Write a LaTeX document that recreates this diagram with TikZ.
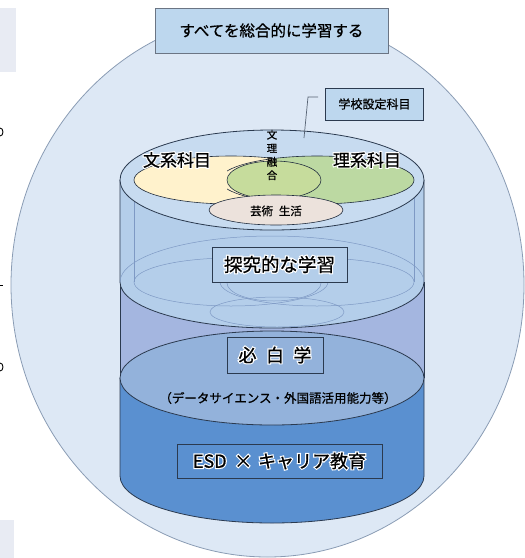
\documentclass[tikz,border=0pt]{standalone}
\usepackage{fontspec}
\setmainfont{Noto Sans CJK JP}[FakeBold=0.8]
\newfontfamily\glowfont[FakeBold=14]{Noto Sans CJK JP}
\newcommand\glow[1]{\leavevmode\rlap{\glowfont\color{white}#1}#1}
\definecolor{bigfill}{HTML}{DDE8F5}
\definecolor{bigline}{HTML}{8A9CB4}
\definecolor{edge}{HTML}{2B3A4F}
\definecolor{ghost}{HTML}{7E99C4}
\definecolor{topfill}{HTML}{C7DBF0}
\definecolor{upfill}{HTML}{B4CEEA}
\definecolor{midband}{HTML}{A4B6E0}
\definecolor{midell}{HTML}{93B2DB}
\definecolor{botfill}{HTML}{5A90D0}
\definecolor{boxfill}{HTML}{BDD7EE}
\definecolor{yel}{HTML}{FFF2CC}
\definecolor{grn}{HTML}{BCD9A2}
\definecolor{mixg}{HTML}{C6DC9C}
\definecolor{art}{HTML}{ECE2DC}
\definecolor{sidegrey}{HTML}{E8EBF3}
\tikzset{
  labelbox/.style={draw=edge, line width=0.8pt, inner sep=0pt, text=black},
  edgeline/.style={draw=edge, line width=0.8pt},
  ghostline/.style={draw=ghost, line width=0.5pt},
  venn/.style={draw=edge!80!black, line width=0.6pt},
}
\begin{document}
\begin{tikzpicture}[x=1pt,y=-1pt]
\useasboundingbox (0,0) rectangle (525,558);
% cropped neighbours on the left edge
\fill[sidegrey] (0,8) rectangle (16,72);
\fill[sidegrey] (0,520) rectangle (14,558);
\draw[black, line width=0.9pt] (0,136) arc[start angle=90, end angle=-90, x radius=3, y radius=4];
\draw[black, line width=0.9pt] (0,285) -- (3,285);
\draw[black, line width=0.9pt] (0,371) arc[start angle=90, end angle=-90, x radius=3, y radius=4];
% big ellipse
\draw[fill=bigfill, draw=bigline, line width=0.8pt] (267.5,285) ellipse [x radius=256.5, y radius=272];
% bottom section
\fill[botfill] (120,378) -- (120,476) arc[start angle=180, end angle=0, x radius=152, y radius=47] -- (424,378) -- cycle;
\draw[edgeline] (120,378) -- (120,476) arc[start angle=180, end angle=0, x radius=152, y radius=47] -- (424,378);
% middle band
\fill[midband] (120,282) rectangle (424,378);
\draw[edgeline] (120,282) -- (120,378) (424,282) -- (424,378);
\draw[edgeline, fill=midell] (272,378) ellipse [x radius=152, y radius=47];
% upper section
\fill[upfill] (120,180) -- (120,282) arc[start angle=180, end angle=0, x radius=152, y radius=46] -- (424,180) -- cycle;
\draw[edgeline] (120,180) -- (120,282) arc[start angle=180, end angle=0, x radius=152, y radius=46] -- (424,180);
% ghost copy of the top surface
\draw[ghostline] (120,282) arc[start angle=180, end angle=360, x radius=152, y radius=46];
\draw[ghostline] (134,180) -- (134,282) (414,180) -- (414,282);
\draw[ghostline] (231,282) ellipse [x radius=97, y radius=24];
\draw[ghostline] (317,282) ellipse [x radius=97, y radius=24];
\draw[ghostline] (274,283) ellipse [x radius=47, y radius=18];
\draw[ghostline] (277,312) ellipse [x radius=67, y radius=15];
% top surface
\draw[edgeline, fill=topfill] (272,180) ellipse [x radius=152, y radius=50];
\draw[venn, fill=yel] (231,180) ellipse [x radius=97, y radius=24];
\begin{scope}
  \clip (273,100) rectangle (430,260);
  \fill[grn] (317,180) ellipse [x radius=97, y radius=24];
\end{scope}
\begin{scope}
  \clip (227,100) rectangle (430,260);
  \draw[venn] (317,180) ellipse [x radius=97, y radius=24];
\end{scope}
\draw[venn, fill=mixg] (274,180) ellipse [x radius=47, y radius=19];
\draw[venn, fill=art] (276,210) ellipse [x radius=67, y radius=15];
% texts on the top surface
\node[font=\fontsize{17}{19}\selectfont] (bunkei) at (177,160) {\glow{文系科目}};
\node[font=\fontsize{17}{19}\selectfont] (rikei) at (367,160) {\glow{理系科目}};
\node[font=\fontsize{10.5}{13.5}\selectfont, align=center, inner sep=0pt] (yugo) at (272,155) {文\\理\\融\\合};
\node[font=\fontsize{11.5}{13}\selectfont] (geijutsu) at (276,211) {芸術\hspace{0.5em}生活};
% title
\node[labelbox, fill=boxfill, draw=edge!70, minimum width=233pt, minimum height=45pt, font=\fontsize{15.5}{18}\selectfont] (title) at (271.5,30.5) {すべてを総合的に学習する};
% school subjects callout
\node[labelbox, fill=boxfill, minimum width=98pt, minimum height=32pt, font=\fontsize{12}{14}\selectfont] (school) at (374.5,104) {学校設定科目};
\coordinate (c1) at (318,97);
\coordinate (c2) at (308,97);
\coordinate (c3) at (304,138);
\draw[draw=edge!80, line width=0.7pt] (c1) -- (c2) -- (c3);
% layer labels
\node[labelbox, fill=upfill, minimum width=135pt, minimum height=35pt, font=\fontsize{18.5}{20}\selectfont] (tankyu) at (279.5,264.5) {\glow{探究的な学習}};
\node[labelbox, fill=midell, minimum width=96pt, minimum height=36pt, font=\fontsize{18}{20}\selectfont] (hisshu) at (275,355) {\glow{必 \hspace{0.3em}白 \hspace{0.3em}学}};
\node[font=\fontsize{12.5}{14}\selectfont, inner sep=0pt] (ds) at (278,398) {（データサイエンス・外国語活用能力等）};
\node[labelbox, fill=botfill, minimum width=205pt, minimum height=34pt, font=\fontsize{18}{20}\selectfont] (esd) at (279.5,461) {\glow{ESD \hspace{0.2em}× \hspace{0.1em}キャリア教育}};
\end{tikzpicture}
\end{document}
